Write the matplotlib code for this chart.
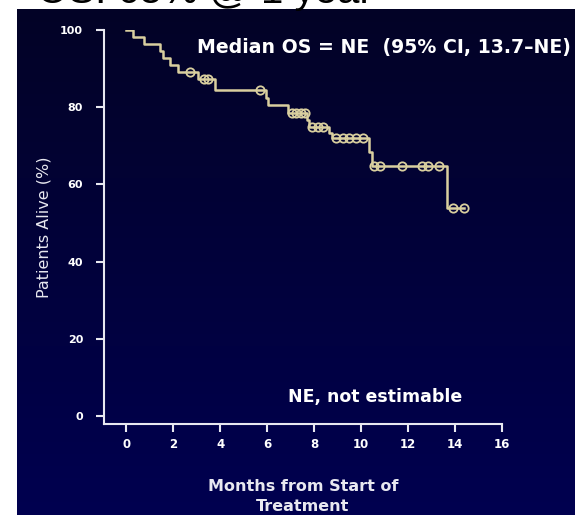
import matplotlib
matplotlib.use("Agg")
import matplotlib.pyplot as plt
import numpy as np

# Kaplan-Meier overall survival
step_months = [0, 0.3, 0.75, 1.45, 1.55, 1.85, 2.2, 3.05, 3.8, 5.95, 6.05, 6.9,
               7.7, 7.8, 8.65, 8.75, 10.35, 10.45, 13.65, 14.4]
step_alive = [100, 98.2, 96.4, 94.6, 92.8, 91.0, 89.0, 87.2, 84.5, 82.5, 80.6, 78.6,
              76.7, 75.0, 73.4, 71.9, 68.3, 64.7, 54.0, 54.0]

censor_months = [2.7, 3.3, 3.5, 5.7, 7.05, 7.25, 7.45, 7.6, 7.9, 8.15, 8.4,
                 8.95, 9.25, 9.5, 9.8, 10.1, 10.55, 10.8, 11.76, 12.6, 12.85, 13.3,
                 13.9, 14.38]
censor_alive = [89.0, 87.2, 87.2, 84.5, 78.6, 78.6, 78.6, 78.6, 75.0, 75.0, 75.0,
                71.9, 71.9, 71.9, 71.9, 71.9, 64.7, 64.7, 64.7, 64.7, 64.7, 64.7,
                54.0, 54.0]

x_ticks = [0, 2, 4, 6, 8, 10, 12, 14, 16]
y_ticks = [0, 20, 40, 60, 80, 100]

curve_color = "#d9cf9f"
axis_color = "#e8e8f0"
plt.rcParams["font.family"] = ["DejaVu Sans"]

fig = plt.figure(figsize=(5.75, 5.15), dpi=100)
fig.patch.set_facecolor("white")

# navy slide panel with a soft vertical gradient
bg = fig.add_axes([17 / 575, 0, 1 - 17 / 575, 1 - 9 / 515], zorder=-5)
grad = np.linspace(0, 1, 256).reshape(-1, 1)
top = np.array([3, 3, 38]) / 255
bottom = np.array([0, 0, 80]) / 255
img = top + (bottom - top) * grad[:, :, None]
bg.imshow(img, aspect="auto", extent=[0, 1, 0, 1])
bg.axis("off")

# slide title, mostly cut off at the top edge
fig.text(37 / 575, 1 - 3 / 515, "OS: 65% @ 1 year", fontsize=29, color="black",
         family="Liberation Sans", ha="left", va="baseline")

ax = fig.add_axes([104 / 575, 1 - 424 / 515, 398 / 575, 394 / 515])
ax.patch.set_alpha(0)

ax.step(step_months, step_alive, where="post", color=curve_color, lw=1.8)
ax.plot(censor_months, censor_alive, "o", ms=6, mfc="none", mec=curve_color, mew=1.3)

ax.set_xlim(-0.94, 16)
ax.set_ylim(-2.07, 100)
ax.set_xticks(x_ticks)
ax.set_yticks(y_ticks)

for side in ["top", "right"]:
    ax.spines[side].set_visible(False)
for side in ["left", "bottom"]:
    ax.spines[side].set_color(axis_color)
    ax.spines[side].set_linewidth(1.5)

ax.tick_params(colors=axis_color, width=1.5, length=6, direction="out")
ax.tick_params(axis="y", labelsize=8, pad=9)
ax.tick_params(axis="x", labelsize=8.5, pad=4)
for lbl in ax.get_xticklabels() + ax.get_yticklabels():
    lbl.set_fontweight("bold")
    lbl.set_color("white")

ax.set_ylabel("Patients Alive (%)", color=axis_color, fontsize=11.5, labelpad=6)
ax.set_xlabel("Months from Start of\nTreatment", color=axis_color, fontsize=11.5,
              fontweight="bold", labelpad=20, linespacing=1.45)

ax.text(3.0, 95.5, "Median OS = NE  (95% CI, 13.7\u2013NE)", color="white",
        fontsize=13.6, fontweight="bold", ha="left", va="center", clip_on=False)
ax.text(6.9, 5.0, "NE, not estimable", color="white", fontsize=12.5,
        fontweight="bold", ha="left", va="center")

fig.savefig("out.png", dpi=100)
